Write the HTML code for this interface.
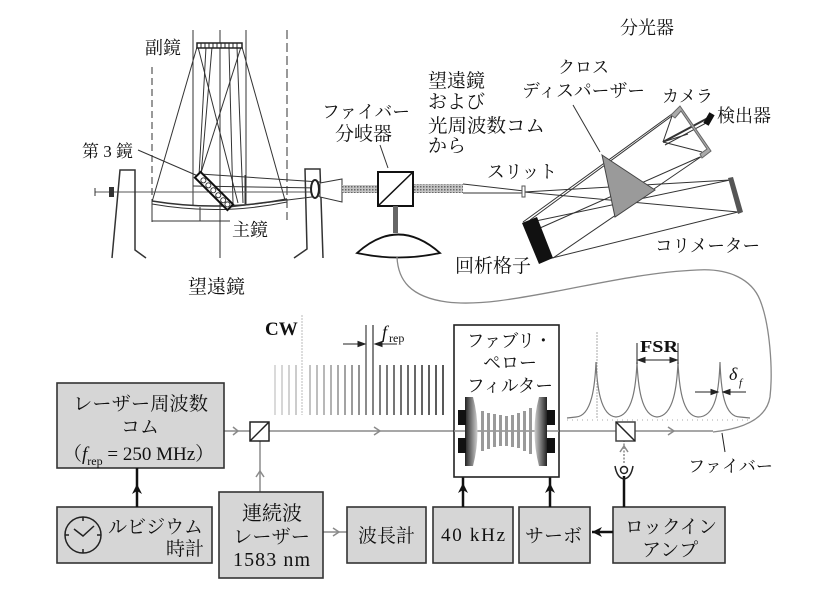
<!DOCTYPE html>
<html><head><meta charset="utf-8">
<style>
html,body{margin:0;padding:0;background:#fff;}
svg{display:block;}
text{font-family:"Liberation Serif","Noto Serif CJK SC","Noto Serif CJK JP","IPAMincho",serif;fill:#111;}
</style></head><body>
<svg width="816" height="593" viewBox="0 0 816 593" xmlns="http://www.w3.org/2000/svg">
<defs>
<linearGradient id="mL" x1="0" x2="1" y1="0" y2="0"><stop offset="0" stop-color="#222"/><stop offset="1" stop-color="#d0d0d0"/></linearGradient>
<linearGradient id="mR" x1="1" x2="0" y1="0" y2="0"><stop offset="0" stop-color="#222"/><stop offset="1" stop-color="#d0d0d0"/></linearGradient>
<pattern id="hatch" width="3" height="3" patternUnits="userSpaceOnUse"><rect width="3" height="3" fill="#c4c4c4"/><rect width="1.5" height="1.5" fill="#666"/></pattern>
</defs>

<!-- ===== Telescope ===== -->
<g stroke="#333" stroke-width="1" fill="none">
<line x1="193" y1="30" x2="193" y2="205"/>
<line x1="220" y1="30" x2="220" y2="258"/>
<line x1="246" y1="30" x2="246" y2="205"/>
<line x1="152" y1="67" x2="152" y2="222" stroke-dasharray="7 4"/>
<line x1="287" y1="30" x2="287" y2="220" stroke-dasharray="9 4"/>
<line x1="197" y1="47" x2="152" y2="202"/>
<line x1="242" y1="47" x2="285" y2="200"/>
<line x1="206" y1="47" x2="199" y2="176"/>
<line x1="212" y1="47" x2="201" y2="176"/>
<line x1="198" y1="47" x2="238" y2="203"/>
<line x1="229" y1="47" x2="233" y2="203"/>
<line x1="237" y1="47" x2="243" y2="203"/>
<line x1="241" y1="47" x2="200" y2="176"/>
<path d="M152,201 Q220,212 287,199" stroke-width="1.5"/>
<path d="M152,204 Q220,216 287,202"/>
<polyline points="152,204 152,221 200,221 200,207"/>
<line x1="200" y1="221" x2="230" y2="221"/>
<line x1="138" y1="150" x2="198" y2="176"/>
<line x1="200" y1="174" x2="320" y2="182"/>
<line x1="230" y1="207" x2="320" y2="196"/>
<line x1="245" y1="175" x2="245" y2="204"/>
<line x1="193" y1="186" x2="320" y2="188"/>
<line x1="95" y1="192" x2="345" y2="192" stroke="#555"/>
<line x1="95" y1="188" x2="95" y2="196"/>
<polyline points="112,258 120,170 135,170 135,250 146,258" stroke-width="1.5"/>
<polyline points="294,258 307,249 305,169 320,169 323,258" stroke-width="1.5"/>
<polygon points="320,183 342,179 342,202 320,197" fill="#fff"/>
</g>
<rect x="109" y="187" width="5" height="10" fill="#333"/>
<ellipse cx="315" cy="189" rx="4" ry="9" fill="#fff" stroke="#222" stroke-width="2"/>
<rect x="197" y="43" width="45" height="5" fill="#fff" stroke="#222" stroke-width="1.5"/>
<g stroke="#222" stroke-width="1">
<line x1="201" y1="43" x2="201" y2="48"/><line x1="205" y1="43" x2="205" y2="48"/><line x1="209" y1="43" x2="209" y2="48"/><line x1="213" y1="43" x2="213" y2="48"/><line x1="217" y1="43" x2="217" y2="48"/><line x1="221" y1="43" x2="221" y2="48"/><line x1="225" y1="43" x2="225" y2="48"/><line x1="229" y1="43" x2="229" y2="48"/><line x1="233" y1="43" x2="233" y2="48"/><line x1="237" y1="43" x2="237" y2="48"/>
</g>
<g transform="translate(214,191) rotate(45)">
<rect x="-23" y="-4" width="46" height="8" fill="#fff" stroke="#111" stroke-width="2"/>
<g fill="none" stroke="#333" stroke-width="1"><circle cx="-15" cy="0" r="2.5"/><circle cx="-8" cy="0" r="2.5"/><circle cx="-1" cy="0" r="2.5"/><circle cx="6" cy="0" r="2.5"/><circle cx="13" cy="0" r="2.5"/><circle cx="19" cy="0" r="2.5"/></g>
</g>
<rect x="342" y="185" width="36" height="8" fill="url(#hatch)"/>
<rect x="413" y="184" width="50" height="9" fill="url(#hatch)"/>

<!-- fiber splitter -->
<rect x="378" y="172" width="35" height="34" fill="#fff" stroke="#111" stroke-width="2"/>
<line x1="378" y1="206" x2="413" y2="172" stroke="#111" stroke-width="1.5"/>
<rect x="393" y="206" width="5" height="27" fill="#666"/>
<path d="M357,253 Q398,216 440,253 Q398,262 357,253 Z" fill="#fff" stroke="#111" stroke-width="1.8"/>
<line x1="380" y1="145" x2="388" y2="168" stroke="#333" stroke-width="1"/>

<!-- fiber -->
<path d="M397,257 C398,280 410,297 447,302 C480,306 520,298 563,290 C600,283 650,272 697,270 C730,268 752,280 760,300 C770,325 773,370 770,397 C767,415 750,428 713,432" fill="none" stroke="#888" stroke-width="1.3"/>

<!-- spectrograph -->
<g stroke="#333" stroke-width="1" fill="none">
<line x1="463" y1="184" x2="524" y2="191"/>
<line x1="463" y1="193" x2="524" y2="193"/>
<line x1="524" y1="192" x2="730" y2="180"/>
<line x1="524" y1="192" x2="738" y2="212"/>
<line x1="730" y1="180" x2="531" y2="222"/>
<line x1="738" y1="212" x2="548" y2="259"/>
<line x1="523" y1="222" x2="672" y2="114"/>
<line x1="530" y1="220" x2="680" y2="110"/>
<line x1="540" y1="228" x2="700" y2="157"/>
<line x1="553" y1="258" x2="708" y2="152"/>
<line x1="672" y1="116" x2="663" y2="142"/>
<line x1="688" y1="134" x2="663" y2="142"/>
<line x1="702" y1="152" x2="663" y2="142"/>
<line x1="663" y1="142" x2="708" y2="118" stroke-width="2"/>
<line x1="665" y1="145" x2="708" y2="122" stroke-width="1"/>
<line x1="573" y1="105" x2="600" y2="152"/>
</g>
<rect x="522" y="186" width="3" height="11" fill="#fff" stroke="#555" stroke-width="1"/>
<polygon points="728,178 733,177 743,212 738,214" fill="#555"/>
<polygon points="522,223 537,217 553,258 539,264" fill="#111"/>
<polygon points="602,155 655,190 615,217" fill="#9a9a9a" stroke="#444" stroke-width="1"/>
<polygon points="671,115 680,106 711,151 702,158 700,154 707,149 681,111 675,118" fill="#aaa" stroke="#666" stroke-width="1"/>
<g transform="translate(709,119) rotate(-60)"><rect x="-6" y="-3" width="12" height="6" fill="#111"/></g>

<!-- ===== top labels ===== -->
<g font-size="18">
<text x="620" y="34">分光器</text>
<text x="145" y="54">副鏡</text>
<text x="82" y="157" font-size="17" textLength="51" lengthAdjust="spacing">第3鏡</text>
<text x="232" y="236">主鏡</text>
<text x="188" y="293" font-size="19">望遠鏡</text>
<text x="322" y="118" textLength="88" lengthAdjust="spacingAndGlyphs">ファイバー</text>
<text x="335" y="140" font-size="19">分岐器</text>
<text x="428" y="87" font-size="19">望遠鏡</text>
<text x="428" y="108" font-size="19">および</text>
<text x="428" y="132" font-size="19" textLength="117" lengthAdjust="spacingAndGlyphs">光周波数コム</text>
<text x="428" y="152" font-size="19">から</text>
<text x="487" y="178" textLength="70" lengthAdjust="spacingAndGlyphs">スリット</text>
<text x="558" y="73" font-size="17">クロス</text>
<text x="522" y="97" textLength="123" lengthAdjust="spacingAndGlyphs">ディスパーザー</text>
<text x="662" y="102" font-size="17">カメラ</text>
<text x="717" y="122">検出器</text>
<text x="655" y="252" textLength="105" lengthAdjust="spacingAndGlyphs">コリメーター</text>
<text x="455" y="272" font-size="19">回析格子</text>
</g>

<!-- ===== bottom section ===== -->
<line x1="302" y1="315" x2="302" y2="415" stroke="#bbb" stroke-width="1" stroke-dasharray="2 1"/>
<g stroke-width="1.6">
<line x1="275" y1="365" x2="275" y2="415" stroke="#d0d0d0"/>
<line x1="282" y1="365" x2="282" y2="415" stroke="#cbcbcb"/>
<line x1="289" y1="365" x2="289" y2="415" stroke="#c6c6c6"/>
<line x1="296" y1="365" x2="296" y2="415" stroke="#c0c0c0"/>
<line x1="310" y1="365" x2="310" y2="415" stroke="#b5b5b5"/>
<line x1="317" y1="365" x2="317" y2="415" stroke="#aeaeae"/>
<line x1="324" y1="365" x2="324" y2="415" stroke="#a6a6a6"/>
<line x1="331" y1="365" x2="331" y2="415" stroke="#9e9e9e"/>
<line x1="338" y1="365" x2="338" y2="415" stroke="#969696"/>
<line x1="345" y1="365" x2="345" y2="415" stroke="#8c8c8c"/>
<line x1="352" y1="365" x2="352" y2="415" stroke="#828282"/>
<line x1="359" y1="365" x2="359" y2="415" stroke="#787878"/>
<line x1="366" y1="325" x2="366" y2="415" stroke="#6e6e6e"/>
<line x1="373" y1="325" x2="373" y2="415" stroke="#646464"/>
<line x1="380" y1="365" x2="380" y2="415" stroke="#5e5e5e"/>
<line x1="387" y1="365" x2="387" y2="415" stroke="#585858"/>
<line x1="394" y1="365" x2="394" y2="415" stroke="#525252"/>
<line x1="401" y1="365" x2="401" y2="415" stroke="#4c4c4c"/>
<line x1="408" y1="365" x2="408" y2="415" stroke="#474747"/>
<line x1="415" y1="365" x2="415" y2="415" stroke="#424242"/>
<line x1="422" y1="365" x2="422" y2="415" stroke="#3d3d3d"/>
<line x1="429" y1="365" x2="429" y2="415" stroke="#383838"/>
<line x1="436" y1="365" x2="436" y2="415" stroke="#333"/>
<line x1="443" y1="365" x2="443" y2="415" stroke="#2e2e2e"/>
</g>
<g stroke="#222" stroke-width="1" fill="#222">
<line x1="343" y1="344" x2="363" y2="344"/><polygon points="365,344 358,341.5 358,346.5"/>
<line x1="397" y1="344" x2="377" y2="344"/><polygon points="375,344 382,341.5 382,346.5"/>
</g>
<text x="265" y="335" font-size="19" font-weight="bold">CW</text>
<text x="382" y="338" font-size="18" font-style="italic">f</text>
<text x="389" y="342" font-size="12">rep</text>

<!-- beams -->
<g stroke="#8a8a8a" stroke-width="1.5" fill="none">
<line x1="224" y1="431" x2="713" y2="431"/>
<polyline points="233,427 238,431 233,435"/>
<polyline points="374,427 380,431 374,435"/>
<polyline points="668,427 674,431 668,435"/>
<line x1="260" y1="492" x2="260" y2="441"/>
<polyline points="256,477 260,471 264,477"/>
<line x1="323" y1="532" x2="347" y2="532"/>
<polyline points="333,528 339,532 333,536"/>
<line x1="624" y1="463" x2="624" y2="441" stroke-dasharray="2 1.5"/>
<polyline points="620,452 624,446 628,452"/>
</g>
<rect x="250" y="422" width="19" height="19" fill="#fff" stroke="#222" stroke-width="1.5"/>
<line x1="250" y1="441" x2="269" y2="422" stroke="#222" stroke-width="1.5"/>
<rect x="616" y="422" width="19" height="19" fill="#fff" stroke="#444" stroke-width="1.5"/>
<line x1="616" y1="422" x2="635" y2="441" stroke="#222" stroke-width="1.5"/>

<!-- boxes -->
<g fill="#d6d6d6" stroke="#333" stroke-width="1.6">
<rect x="57" y="383" width="167" height="85"/>
<rect x="57" y="507" width="155" height="56"/>
<rect x="219" y="492" width="104" height="86"/>
<rect x="347" y="507" width="79" height="56"/>
<rect x="433" y="507" width="80" height="56"/>
<rect x="519" y="507" width="71" height="56"/>
<rect x="613" y="507" width="112" height="56"/>
</g>
<!-- clock -->
<circle cx="83" cy="535" r="18" fill="none" stroke="#222" stroke-width="1.5"/>
<g stroke="#222" stroke-width="1.5">
<line x1="83" y1="517" x2="83" y2="521"/><line x1="83" y1="549" x2="83" y2="553"/>
<line x1="65" y1="535" x2="69" y2="535"/><line x1="97" y1="535" x2="101" y2="535"/>
<polyline points="74,529 83,536 94,526" fill="none"/>
</g>
<!-- black arrows -->
<g stroke="#111" stroke-width="2.5" fill="#111">
<line x1="137" y1="507" x2="137" y2="468"/>
<line x1="463" y1="507" x2="463" y2="477"/>
<line x1="550" y1="507" x2="550" y2="477"/>
<line x1="624" y1="507" x2="624" y2="476"/>
<line x1="613" y1="532" x2="592" y2="532"/>
</g>
<g fill="#111">
<polygon points="137,484 132,494 137,491 142,494"/>
<polygon points="463,483 458,493 463,490 468,493"/>
<polygon points="550,483 545,493 550,490 555,493"/>
<polygon points="592,532 602,527 599,532 602,537"/>
</g>
<!-- detector -->
<circle cx="624" cy="470" r="3.5" fill="#fff" stroke="#222" stroke-width="1.5"/>
<path d="M615,466 Q617,478 624,479 Q631,478 633,466" fill="none" stroke="#222" stroke-width="1.5"/>

<!-- Fabry-Perot -->
<rect x="454" y="325" width="105" height="152" fill="#fff" stroke="#222" stroke-width="1.6"/>
<line x1="454" y1="431" x2="559" y2="431" stroke="#8a8a8a" stroke-width="1.5"/>
<path d="M465,397 L473,397 Q482,431 473,466 L465,466 Z" fill="url(#mL)"/>
<path d="M547,397 L539,397 Q530,431 539,466 L547,466 Z" fill="url(#mR)"/>
<g fill="#111">
<rect x="458" y="410" width="8" height="15"/><rect x="458" y="438" width="8" height="15"/>
<rect x="547" y="410" width="8" height="15"/><rect x="547" y="438" width="8" height="15"/>
</g>
<g fill="#9a9a9a">
<rect x="481" y="411" width="3" height="40"/>
<rect x="487" y="413" width="3" height="36"/>
<rect x="493" y="414" width="3" height="33"/>
<rect x="499" y="415" width="3" height="31"/>
<rect x="505" y="416" width="3" height="30"/>
<rect x="511" y="415" width="3" height="32"/>
<rect x="517" y="413" width="3" height="35"/>
<rect x="523" y="411" width="3" height="40"/>
<rect x="529" y="408" width="3" height="46"/>
</g>
<text x="467" y="347" font-size="18" textLength="85" lengthAdjust="spacingAndGlyphs">ファブリ・</text>
<text x="483" y="369" font-size="18">ペロー</text>
<text x="467" y="392" font-size="18" textLength="86" lengthAdjust="spacingAndGlyphs">フィルター</text>

<!-- resonance peaks -->
<line x1="597" y1="332" x2="597" y2="418" stroke="#aaa" stroke-width="1" stroke-dasharray="2 1"/>
<path d="M567,418 L576,417 C592,416 595,385 596,362 C597,385 600,416 616,417 C633,416 636,385 637,362 C638,385 641,416 657,417 C674,416 677,385 678,362 C679,385 682,416 698,417 C716,417 719,390 720,362 C721,390 724,417 740,417 L750,418" fill="none" stroke="#777" stroke-width="1.2"/>
<line x1="567" y1="420" x2="750" y2="420" stroke="#aaa" stroke-width="1" stroke-dasharray="1 4"/>
<g stroke="#222" stroke-width="1" fill="#222">
<line x1="637" y1="343" x2="637" y2="364"/>
<line x1="678" y1="343" x2="678" y2="364"/>
<line x1="639" y1="360" x2="676" y2="360"/>
<polygon points="638,360 645,357.5 645,362.5"/>
<polygon points="677,360 670,357.5 670,362.5"/>
<line x1="695" y1="392" x2="716" y2="392"/>
<polygon points="718,392 711,389.5 711,394.5"/>
<line x1="746" y1="392" x2="725" y2="392"/>
<polygon points="723,392 730,389.5 730,394.5"/>
<line x1="722" y1="433" x2="725" y2="452"/>
</g>
<text x="640" y="352" font-size="17" font-weight="bold" textLength="38" lengthAdjust="spacingAndGlyphs">FSR</text>
<text x="729" y="380" font-size="18" font-style="italic">δ</text>
<text x="739" y="386" font-size="11" font-style="italic">f</text>
<text x="688" y="472" font-size="17" textLength="85" lengthAdjust="spacingAndGlyphs">ファイバー</text>

<!-- box labels -->
<g font-size="19">
<text x="73" y="410" textLength="135" lengthAdjust="spacingAndGlyphs">レーザー周波数</text>
<text x="121" y="433">コム</text>
<text x="63" y="460">（<tspan font-style="italic">f</tspan><tspan font-size="12" dy="5">rep</tspan><tspan dy="-5"> = 250 MHz</tspan>）</text>
<text x="108" y="533" textLength="95" lengthAdjust="spacingAndGlyphs">ルビジウム</text>
<text x="166" y="555">時計</text>
<text x="242" y="520" font-size="20">連続波</text>
<text x="233" y="543" font-size="19" textLength="77" lengthAdjust="spacingAndGlyphs">レーザー</text>
<text x="233" y="566" font-size="20" textLength="77" lengthAdjust="spacing">1583 nm</text>
<text x="358" y="542">波長計</text>
<text x="441" y="541" font-size="19" textLength="64" lengthAdjust="spacing">40 kHz</text>
<text x="525" y="542">サーボ</text>
<text x="625" y="533" textLength="92" lengthAdjust="spacingAndGlyphs">ロックイン</text>
<text x="642" y="556">アンプ</text>
</g>
</svg>
</body></html>
